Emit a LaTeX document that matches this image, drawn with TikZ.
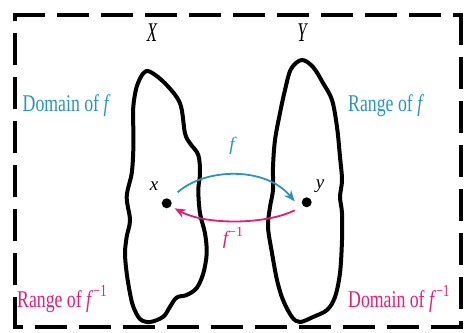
\documentclass[tikz,border=0pt]{standalone}
\usepackage{fontspec}
\setmainfont{Liberation Serif}
\newfontfamily\condfont[FakeStretch=0.74]{Liberation Serif}
\newfontfamily\narrowfont[FakeStretch=0.62]{Liberation Serif}
\usetikzlibrary{arrows.meta}
\definecolor{fcyan}{RGB}{40,150,185}
\definecolor{fmag}{RGB}{225,30,120}
\newcommand{\minusone}{\raisebox{0.42em}{\upshape\fontsize{17}{17}\selectfont\char"2212 1}}
\newcommand{\minusonesmall}{\raisebox{0.42em}{\upshape\fontsize{14}{14}\selectfont\char"2212 1}}
\tikzset{
  lbl/.style={inner sep=0pt, anchor=base west, font=\condfont\fontsize{24}{24}\selectfont},
  setlbl/.style={inner sep=0pt, anchor=base, font=\narrowfont\itshape\fontsize{27}{27}\selectfont},
  ptlbl/.style={inner sep=0pt, anchor=base, font=\itshape\fontsize{19}{19}\selectfont},
  blob/.style={line width=4pt, line join=round},
  dotn/.style={circle, fill=black, inner sep=0pt, minimum size=10pt},
  frameside/.style={line width=4pt, line cap=rect, dash pattern=on 28pt off 16pt},
  maparrow/.style={line width=1.8pt, -{Stealth[length=11pt,width=9pt]}}
}
\begin{document}
\begin{tikzpicture}[x=1pt,y=-1pt]
\useasboundingbox (0,0) rectangle (471,332);
% frame
\coordinate (c1) at (15,15);
\coordinate (c2) at (461,15);
\coordinate (c3) at (461,327);
\coordinate (c4) at (15,327);
\draw[frameside] (c1) -- (c2);
\draw[frameside] (c2) -- (c3);
\draw[frameside] (c3) -- (c4);
\draw[frameside] (c4) -- (c1);
% blobs
\draw[blob] plot[smooth cycle, tension=0.55] coordinates {
 (150,71.7) (165,83.3) (180,103.3) (185,133.3) (190,143.3) (198.3,155)
 (200,173.3) (198.3,190) (200,213.3) (205,233.3) (206.7,253.3) (203.3,273.3)
 (196.7,288) (186.7,295) (176.7,297.5) (170,306.7) (163.3,316.7) (150,322)
 (140,319) (133.3,306.7) (130,293.3) (126.7,273.3) (125,253.3) (126.7,236.7)
 (130,220) (126.7,196.7) (131.7,173.3) (133.3,150) (133.3,130) (133.3,106.7)
 (136.7,86.7) (143.3,73.3)};
\draw[blob] plot[smooth cycle, tension=0.55] coordinates {
 (301.7,60) (313,67) (323,83) (332,100) (337,127) (340,157) (342,180)
 (340,197) (342,213) (342,240) (340,273) (335,297) (327,310) (313,317)
 (300,322) (292,317) (283,300) (277,280) (272,253) (268,227) (270,207)
 (273,190) (273,167) (275,140) (280,113) (285,90) (291,69)};
% set labels
\node[setlbl] (X) at (152,41.5) {X};
\node[setlbl] (Y) at (302,41.5) {Y};
% dots
\node[dotn] (px) at (166.7,203.3) {};
\node[dotn] (py) at (306.7,202.3) {};
\node[ptlbl] (lx) at (154,190) {x};
\node[ptlbl] (ly) at (320,188) {y};
% arrow ends
\path (px) ++(11,-11) coordinate (fs);
\path (py) ++(-12,-1) coordinate (fe);
\path (py) ++(-12,8) coordinate (gs);
\path (px) ++(8,5) coordinate (ge);
\draw[maparrow, fcyan] (fs) .. controls (205,168) and (265,166) .. (fe);
\draw[maparrow, fmag] (gs) .. controls (265,225) and (205,225) .. (ge);
\node[ptlbl, text=fcyan] (lf) at (232,150) {f};
\node[ptlbl, text=fmag] (lg) at (233,244) {f\minusonesmall};
% domain / range labels
\node[lbl, text=fcyan] (dom) at (22.5,111) {Domain of \textit{f}};
\node[lbl, text=fcyan] (ran) at (348,111) {Range of \textit{f}};
\node[lbl, text=fmag] (raninv) at (17,307) {Range of \textit{f}\minusone};
\node[lbl, text=fmag] (dominv) at (348,307) {Domain of \textit{f}\minusone};
\end{tikzpicture}
\end{document}
